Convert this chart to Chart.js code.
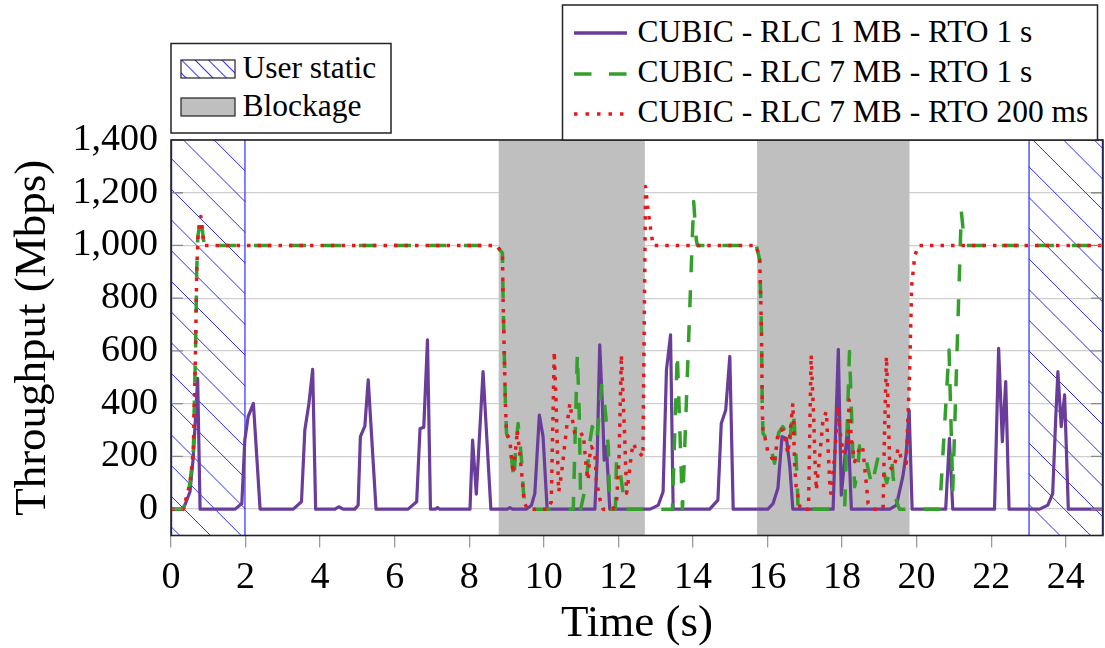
<!DOCTYPE html>
<html lang="en">
<head>
<meta charset="UTF-8">
<title>CUBIC throughput vs time</title>
<script src="https://cdn.jsdelivr.net/npm/chart.js"></script>
<style>
  body { margin: 0; background: #ffffff; }
  .wrap { position: relative; width: 1105px; height: 648px; }
  .wrap canvas, .wrap svg { position: absolute; left: 0; top: 0; }
  .wrap svg { pointer-events: none; }
  svg text { font-family: "Liberation Serif", "Times New Roman", serif; font-size: 31.5px; fill: #000; }
</style>
</head>
<body>
<div class="wrap">
  <canvas id="tputChart" width="1105" height="648"></canvas>
  <svg width="1105" height="648">
    <defs>
      <pattern id="hatch" width="9.5" height="9.5" patternUnits="userSpaceOnUse" patternTransform="rotate(-45)">
        <line x1="0.5" y1="0" x2="0.5" y2="9.5" stroke="#3030ff" stroke-width="1"/>
      </pattern>
    </defs>
    <!-- region legend -->
    <rect x="171" y="43.5" width="220" height="89.5" fill="#fff" stroke="#222" stroke-width="1.5"/>
    <rect x="181" y="60" width="54" height="18" fill="#fff"/>
    <rect x="181" y="60" width="54" height="18" fill="url(#hatch)" stroke="#222" stroke-width="1.2"/>
    <text x="242.5" y="78">User static</text>
    <rect x="181" y="98" width="54" height="18" fill="#bfbfbf" stroke="#222" stroke-width="1.2"/>
    <text x="242.5" y="116">Blockage</text>
    <!-- series legend -->
    <rect x="562.5" y="5" width="535" height="135" fill="#fff" stroke="#222" stroke-width="1.5"/>
    <line x1="574" y1="33" x2="627" y2="33" stroke="#6a3d9a" stroke-width="3.5"/>
    <text x="637.5" y="41.5">CUBIC - RLC 1 MB - RTO 1 s</text>
    <line x1="574" y1="74" x2="627" y2="74" stroke="#33a02c" stroke-width="3.5" stroke-dasharray="17.5 17.5"/>
    <text x="637.5" y="82">CUBIC - RLC 7 MB - RTO 1 s</text>
    <line x1="574" y1="114" x2="624" y2="114" stroke="#e31a1c" stroke-width="3.5" stroke-dasharray="3.5 8"/>
    <text x="637.5" y="122">CUBIC - RLC 7 MB - RTO 200 ms</text>
  </svg>
</div>

<script>
// time axis (s) and throughput (Mbps)
const xTicks = [0, 2, 4, 6, 8, 10, 12, 14, 16, 18, 20, 22, 24];
const yTicks = [0, 200, 400, 600, 800, 1000, 1200, 1400];

const staticSpans = [[0, 2], [23, 25]];
const blockageSpans = [[8.79, 12.71], [15.72, 19.81]];

// CUBIC - RLC 1 MB - RTO 1 s
const cubic1Time = [
  0, 0.33, 0.51, 0.6, 0.715, 0.78,
  1.72, 1.9, 1.98, 2.07, 2.21, 2.39,
  3.28, 3.5, 3.59, 3.7, 3.8, 3.88,
  4.4, 4.5, 4.62,
  4.93, 5.02, 5.08, 5.2, 5.29, 5.5,
  6.36, 6.59, 6.68, 6.78, 6.88, 6.96,
  7.1, 7.15, 7.2,
  8.02, 8.09, 8.19, 8.37, 8.58,
  9.02, 9.09, 9.16,
  9.54, 9.67, 9.76, 9.88, 9.98, 10.09,
  11.37, 11.43, 11.5, 11.57, 11.62, 11.68, 11.77,
  12.85, 12.93, 13.07, 13.2, 13.29, 13.4, 13.47,
  14.45, 14.67, 14.76, 14.88, 14.99, 15.08,
  16.01, 16.15, 16.28, 16.39, 16.51, 16.6, 16.68,
  17.76, 17.9, 17.98, 18.07, 18.16, 18.25,
  19.28, 19.46, 19.63, 19.72, 19.8, 19.88,
  20.78, 20.88, 20.97,
  22.09, 22.2, 22.3, 22.39, 22.48,
  23.3, 23.52, 23.65, 23.73, 23.79, 23.88, 23.97, 24.07,
  25
];
const cubic1Tput = [
  0, 0, 66, 200, 496, 0,
  0, 21, 262, 351, 401, 0,
  0, 28, 300, 401, 530, 0,
  0, 9, 0,
  0, 15, 275, 315, 490, 0,
  0, 28, 306, 310, 642, 0,
  0, 6, 0,
  0, 262, 57, 522, 0,
  0, 6, 0,
  0, 15, 60, 357, 275, 0,
  0, 186, 623, 401, 186, 237, 0,
  0, 5, 15, 66, 528, 661, 0,
  0, 34, 325, 376, 579, 0,
  0, 21, 79, 275, 268, 161, 0,
  0, 606, 53, 186, 325, 0,
  0, 15, 123, 211, 376, 0,
  0, 268, 0,
  0, 610, 256, 484, 0,
  0, 15, 59, 338, 522, 313, 433, 0,
  0
];

// CUBIC - RLC 7 MB - RTO 1 s
const cubic7Time = [
  0, 0.33, 0.51, 0.6, 0.63, 0.66, 0.69, 0.72, 0.8, 0.87, 0.9,
  8.73, 8.89, 8.91, 8.95, 8.97, 9.0,
  9.09, 9.16, 9.2, 9.25, 9.31, 9.38, 9.41, 9.45, 9.49, 9.54,
  10.79, 10.9, 10.95, 10.97, 10.99,
  11.14, 11.23, 11.3, 11.42, 11.55, 11.64, 11.73, 11.77,
  11.92, 11.95, 12.04, 12.19,
  13.45, 13.58, 13.72, 14.02, 14.09, 14.12,
  15.7, 15.79, 15.82, 15.84, 15.86, 15.88,
  16.01, 16.15, 16.19, 16.3, 16.41, 16.51, 16.6, 16.67, 16.72, 16.77, 16.8, 16.82,
  18.07, 18.2, 18.29, 18.34, 18.42, 18.47, 18.6, 18.8, 18.97, 19.1, 19.2, 19.34, 19.37, 19.46, 19.54,
  20.62, 20.87, 20.97, 21.2, 21.24, 21.33,
  25
];
const cubic7Tput = [
  0, 0, 98, 224, 427, 616, 908, 1034, 1110, 1022, 1000,
  1000, 971, 781, 528, 401, 287,
  249, 161, 110, 237, 325, 224, 174, 72, 23, 0,
  0, 591, 363, 199, 0,
  98, 249, 313, 260, 470, 389, 237, 0,
  0, 186, 148, 0,
  0, 591, 0, 1167, 1022, 1000,
  1000, 946, 794, 667, 389, 287,
  262, 199, 174, 290, 313, 288, 250, 370, 330, 186, 100, 0,
  0, 598, 211, 85, 150, 240, 216, 90, 200, 148, 100, 180, 123, 30, 0,
  0, 604, 72, 1129, 1072, 1000,
  1000
];

// CUBIC - RLC 7 MB - RTO 200 ms
const rto200Time = [
  0, 0.33, 0.51, 0.6, 0.63, 0.66, 0.69, 0.73, 0.8, 0.85, 0.9,
  8.73, 8.89, 8.91, 8.95, 8.97, 9.0,
  9.09, 9.12, 9.18, 9.27, 9.29, 9.4, 9.47, 9.56,
  10.12, 10.2, 10.25, 10.28, 10.33, 10.38, 10.4,
  10.47, 10.56, 10.62, 10.7, 10.74, 10.83, 10.92, 11.06, 11.14, 11.19, 11.23, 11.28, 11.37, 11.41, 11.5, 11.59,
  11.85, 11.95, 12.02, 12.08, 12.17, 12.22, 12.28, 12.35, 12.4, 12.5, 12.62, 12.66,
  12.73, 12.8, 12.87, 12.93,
  15.7, 15.79, 15.82, 15.84, 15.86, 15.88,
  15.92, 16.01, 16.15, 16.19, 16.28, 16.33, 16.42, 16.55, 16.64, 16.68, 16.73, 16.77, 16.88,
  17.1, 17.11, 17.17, 17.24, 17.27, 17.31, 17.4, 17.49, 17.58, 17.67, 17.7,
  17.8, 17.89, 17.94, 18.03, 18.16, 18.19, 18.25, 18.34, 18.47, 18.55, 18.65, 18.7, 18.87,
  19.1, 19.14, 19.19, 19.23, 19.28, 19.35, 19.46, 19.5, 19.59, 19.72, 19.81, 19.87, 19.95, 20.05,
  25
];
const rto200Tput = [
  0, 0, 98, 224, 427, 616, 908, 1050, 1110, 1040, 1000,
  1000, 971, 781, 528, 401, 287,
  262, 211, 136, 262, 300, 148, 28, 0,
  0, 28, 376, 598, 400, 148, 66,
  129, 243, 319, 401, 363, 287, 275, 287, 155, 110, 199, 237, 211, 110, 40, 0,
  0, 23, 199, 585, 275, 60, 120, 211, 249, 220, 205, 199,
  1224, 1130, 1060, 1000,
  1000, 946, 794, 667, 389, 287,
  281, 218, 186, 174, 287, 300, 300, 211, 338, 401, 161, 85, 0,
  0, 85, 585, 351, 199, 72, 200, 338, 370, 98, 60,
  200, 389, 300, 211, 262, 414, 262, 180, 230, 240, 98, 21, 0,
  0, 287, 579, 414, 161, 150, 193, 230, 193, 174, 500, 850, 960, 1000,
  1000
];

const toPoints = (ts, vs) => ts.map((t, i) => ({ x: t, y: vs[i] }));
const serif = '"Liberation Serif", "Times New Roman", serif';

// shaded / hatched time spans, drawn under the series
const bandsPlugin = {
  id: 'bands',
  beforeDatasetsDraw(chart) {
    const { ctx, chartArea: a, scales: { x } } = chart;
    ctx.save();
    ctx.beginPath();
    ctx.rect(a.left, a.top, a.right - a.left, a.bottom - a.top);
    ctx.clip();

    ctx.fillStyle = '#bfbfbf';
    blockageSpans.forEach(([s, e]) => {
      const x0 = x.getPixelForValue(s), x1 = x.getPixelForValue(e);
      ctx.fillRect(x0, a.top, x1 - x0, a.bottom - a.top);
    });

    const phase = [10, 18];
    staticSpans.forEach(([s, e], k) => {
      const x0 = x.getPixelForValue(s), x1 = x.getPixelForValue(e);
      ctx.save();
      ctx.beginPath();
      ctx.rect(x0, a.top, x1 - x0, a.bottom - a.top);
      ctx.clip();
      ctx.strokeStyle = '#2b2bff';
      ctx.lineWidth = 1;
      ctx.beginPath();
      const w = x1 - x0;
      for (let c = -w - 40; c < a.bottom - a.top + 40; c += 30.7) {
        const y0 = a.top + phase[k] + c;
        ctx.moveTo(x0, y0);
        ctx.lineTo(x1, y0 + w);
      }
      ctx.stroke();
      ctx.restore();
      ctx.strokeStyle = '#2b2bff';
      ctx.lineWidth = 1.2;
      ctx.beginPath();
      ctx.moveTo(x0 + 0.6, a.top); ctx.lineTo(x0 + 0.6, a.bottom);
      ctx.moveTo(x1 - 0.6, a.top); ctx.lineTo(x1 - 0.6, a.bottom);
      ctx.stroke();
    });
    ctx.restore();
  }
};

// axis frame and inward y tick marks
const framePlugin = {
  id: 'frame',
  afterDraw(chart) {
    const { ctx, chartArea: a, scales: { y } } = chart;
    ctx.save();
    ctx.strokeStyle = '#8a8a8a';
    ctx.lineWidth = 1.3;
    ctx.beginPath();
    yTicks.forEach(v => {
      const py = y.getPixelForValue(v);
      ctx.moveTo(a.left, py); ctx.lineTo(a.left + 12, py);
      ctx.moveTo(a.right - 12, py); ctx.lineTo(a.right, py);
    });
    ctx.stroke();
    ctx.strokeStyle = '#222';
    ctx.lineWidth = 1.6;
    ctx.strokeRect(a.left, a.top, a.right - a.left, a.bottom - a.top);
    ctx.restore();
  }
};

const ctx = document.getElementById('tputChart').getContext('2d');
const tputChart = new Chart(ctx, {
  type: 'line',
  data: {
    datasets: [
      {
        label: 'CUBIC - RLC 7 MB - RTO 200 ms',
        data: toPoints(rto200Time, rto200Tput),
        borderColor: '#e31a1c',
        borderWidth: 3.5,
        borderDash: [3.5, 7],
        order: 0
      },
      {
        label: 'CUBIC - RLC 7 MB - RTO 1 s',
        data: toPoints(cubic7Time, cubic7Tput),
        borderColor: '#33a02c',
        borderWidth: 3.5,
        borderDash: [17, 18],
        order: 1
      },
      {
        label: 'CUBIC - RLC 1 MB - RTO 1 s',
        data: toPoints(cubic1Time, cubic1Tput),
        borderColor: '#6a3d9a',
        borderWidth: 3.2,
        order: 2
      }
    ]
  },
  options: {
    responsive: false,
    animation: false,
    layout: { padding: { top: 140, right: 2, left: 0, bottom: 0 } },
    elements: {
      point: { radius: 0 },
      line: { tension: 0, fill: false, borderCapStyle: 'butt', borderJoinStyle: 'round' }
    },
    plugins: {
      legend: { display: false },
      tooltip: { enabled: false }
    },
    scales: {
      x: {
        type: 'linear',
        min: 0,
        max: 25,
        afterBuildTicks: s => { s.ticks = xTicks.map(v => ({ value: v })); },
        afterFit: s => { s.height = 112.5; },
        grid: { drawOnChartArea: false, drawTicks: true, tickLength: 12, color: '#9a9a9a', lineWidth: 1.3 },
        border: { display: false },
        ticks: { color: '#000', font: { family: serif, size: 38 }, padding: 8, maxRotation: 0 },
        title: { display: true, text: 'Time (s)', color: '#000', font: { family: serif, size: 45 }, padding: { top: 0, bottom: -3 } }
      },
      y: {
        min: -100,
        max: 1400,
        afterBuildTicks: s => { s.ticks = yTicks.map(v => ({ value: v })); },
        afterFit: s => { s.width = 171; },
        grid: { color: '#cfcfcf', lineWidth: 1.3, drawTicks: false },
        border: { display: false },
        ticks: {
          color: '#000',
          font: { family: serif, size: 38 },
          padding: 13,
          callback: v => v.toLocaleString('en-US')
        },
        title: { display: true, text: 'Throughput (Mbps)', color: '#000', font: { family: serif, size: 45 }, padding: { top: 6, bottom: 0 } }
      }
    }
  },
  plugins: [bandsPlugin, framePlugin]
});
</script>
</body>
</html>
